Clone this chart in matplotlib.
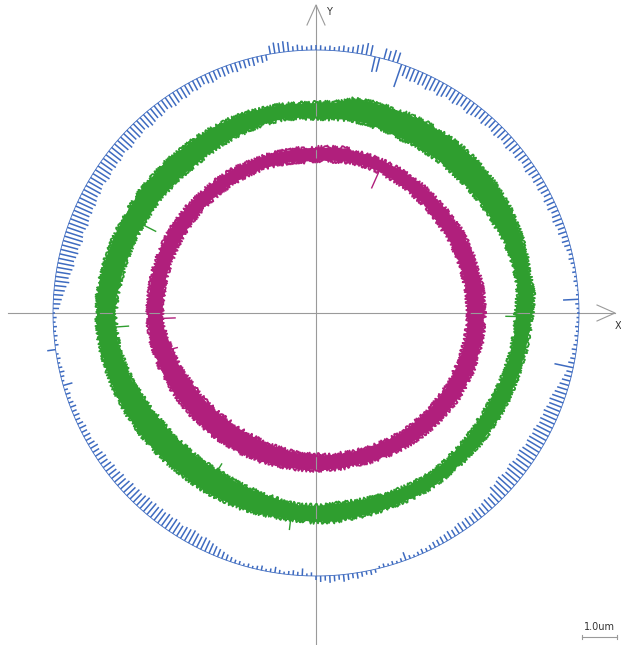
import numpy as np
import matplotlib.pyplot as plt
from matplotlib.collections import LineCollection

# blue deviation ticks, one per degree (positive = inward, negative = outward)
blue_ticks = [
    2, 2, 3, 13, 2, 1, 2, 3, 2, 3, 2, 3, 4, 3, 4, 5, 6, 5, 7, 6, 7, 8, 7, 6, 8, 7, 8, 6, 7, 8,
    7, 8, 7, 8, 9, 8, 7, 8, 9, 8, 9, 10, 9, 8, 9, 10, 9, 8, 9, 10, 8, 9, 10, 11, 10, 9, 10, 11, 10, 9,
    11, 12, 10, 11, 12, 10, 11, 10, 11, 10, 9, 20, -9, -10, -8, -9, 12, 13, -9, -10, -8, -7, -5, -4, -5, -4, -3, -4, -3, -4,
    -4, -4, -3, -4, -5, -4, -8, -9, -8, -9, -7, 5, 6, 5, 7, 6, 7, 6, 8, 7, 7, 8, 7, 8, 9, 8, 7, 8, 9, 8,
    9, 10, 9, 10, 11, 10, 9, 10, 11, 10, 11, 12, 11, 10, 11, 12, 11, 12, 13, 12, 11, 12, 13, 12, 13, 12, 13, 14, 13, 12,
    13, 14, 13, 14, 15, 14, 15, 14, 15, 16, 15, 14, 15, 16, 15, 14, 15, 14, 13, 14, 13, 12, 11, 12, 10, 9, 8, 7, 6, 5,
    2, 3, 2, 3, 2, 3, 2, 3, -7, 2, 3, 2, 3, 4, 3, 2, 8, 3, 4, 3, 4, 5, 4, 5, 4, 5, 6, 5, 6, 5,
    6, 7, 6, 7, 8, 7, 8, 9, 8, 9, 10, 9, 10, 11, 10, 11, 10, 11, 12, 11, 12, 11, 12, 11, 12, 11, 12, 11, 10, 11,
    11, 12, 11, 10, 11, 10, 9, 8, 7, 6, 5, 4, 3, 3, 2, 3, 2, 3, 4, 2, 3, 5, 3, 2, 3, 4, 3, 6, 2, 3,
    -3, -5, -4, -6, -5, -4, -6, -5, -4, -5, -4, -3, -4, -3, 2, 3, 2, 3, 2, 3, 7, 3, 2, 3, 4, 3, 4, 5, 5, 6,
    6, 7, 6, 7, 8, 7, 8, 7, 8, 9, 8, 9, 10, 9, 10, 14, 13, 14, 15, 14, 13, 14, 15, 14, 13, 14, 15, 14, 13, 14,
    14, 13, 14, 13, 12, 13, 12, 13, 12, 11, 12, 11, 10, 9, 8, 7, 6, 5, 16, 5, 4, 3, 4, 3, 2, 3, 2, 3, 2, 2,
]
blue_radius = 263

# profile bands, every 5 degrees starting at 0 (counter-clockwise from +X)
green_inner = [200, 203, 204, 203, 202, 200, 199, 198, 197, 196, 196, 195, 195, 194, 195, 196, 196, 195,
               195, 196, 197, 196, 195, 194, 193, 192, 191, 192, 192, 193, 194, 195, 196, 197, 198, 200,
               201, 201, 200, 198, 196, 193, 191, 189, 188, 187, 187, 186, 186, 187, 188, 189, 191, 193,
               193, 192, 192, 193, 194, 195, 196, 197, 197, 196, 196, 195, 195, 196, 197, 198, 199, 200]
green_outer = [216, 218, 217, 218, 219, 220, 221, 221, 221, 221, 221, 220, 220, 219, 218, 218, 217, 211,
               210, 210, 211, 211, 212, 212, 212, 212, 212, 213, 213, 214, 214, 215, 216, 217, 218, 219,
               219, 219, 218, 217, 216, 215, 214, 213, 212, 211, 210, 210, 210, 209, 209, 208, 208, 208,
               209, 209, 208, 208, 208, 208, 209, 209, 209, 209, 210, 210, 210, 211, 211, 212, 213, 214]
magenta_inner = [152, 152, 152, 152, 152, 152, 152, 152, 152, 153, 153, 154, 154, 155, 155, 155, 154, 153,
                 152, 152, 153, 153, 154, 154, 154, 154, 154, 154, 154, 154, 154, 154, 154, 154, 154, 154,
                 154, 153, 151, 149, 147, 145, 143, 142, 141, 140, 139, 139, 139, 139, 140, 140, 141, 142,
                 142, 143, 143, 144, 144, 145, 146, 147, 147, 148, 149, 149, 150, 150, 151, 151, 152, 152]
magenta_outer = [168, 168, 168, 167, 167, 167, 167, 166, 166, 166, 166, 166, 166, 166, 166, 166, 167, 166,
                 165, 165, 165, 165, 165, 165, 166, 166, 166, 166, 167, 167, 168, 168, 168, 168, 168, 168,
                 168, 168, 167, 166, 165, 164, 163, 162, 161, 160, 160, 159, 159, 158, 158, 157, 157, 157,
                 157, 157, 157, 157, 158, 159, 160, 161, 162, 163, 164, 165, 166, 166, 167, 167, 168, 168]

# single spikes: angle (deg), start radius, end radius
green_spikes = [(184, 203, 188), (153, 194, 180), (263, 208, 218), (359, 201, 190), (238, 188, 178)]
magenta_spikes = [(66, 155, 137), (182, 155, 141), (194, 152, 143)]

blue = "#3e6bc0"
green = "#2f9e2f"
magenta = "#b01f7c"
gray = "#9a9a9a"

fig = plt.figure(figsize=(6.21, 6.45), dpi=100)
ax = fig.add_axes([0, 0, 1, 1])
ax.set_xlim(-316, 305)
ax.set_ylim(-332, 313)
ax.axis("off")

# axes with open arrows
ax.plot([0, 0], [-332, 308], color=gray, lw=0.8)
ax.plot([-308, 299], [0, 0], color=gray, lw=0.8)
ax.plot([-9, 0, 9], [288, 308, 288], color=gray, lw=0.8)
ax.plot([281, 299, 281], [8, 0, -8], color=gray, lw=0.8)
ax.text(10, 301, "Y", fontsize=7, color="#333333", va="center", ha="left")
ax.text(305, -13, "X", fontsize=7, color="#333333", va="center", ha="right")

# blue base circle and ticks
th = np.deg2rad(np.arange(0, 361))
ax.plot(blue_radius * np.cos(th), blue_radius * np.sin(th), color=blue, lw=0.6)
ang = np.deg2rad(np.arange(len(blue_ticks)))
d = np.array(blue_ticks, dtype=float) * 1.2
segs = [[(blue_radius * np.cos(a), blue_radius * np.sin(a)),
         ((blue_radius - v) * np.cos(a), (blue_radius - v) * np.sin(a))] for a, v in zip(ang, d)]
ax.add_collection(LineCollection(segs, colors=blue, linewidths=1.1))


def band(inner, outer, color, spikes):
    t = np.deg2rad(np.arange(0, 365, 5))
    ri = np.append(inner, inner[0])
    ro = np.append(outer, outer[0])
    xs = np.concatenate([ro * np.cos(t), (ri * np.cos(t))[::-1]])
    ys = np.concatenate([ro * np.sin(t), (ri * np.sin(t))[::-1]])
    ax.fill(xs, ys, color=color, lw=0)
    # ragged profile edges
    for r in (ri, ro):
        ln, = ax.plot(r * np.cos(t), r * np.sin(t), color=color, lw=1.3)
        ln.set_sketch_params(scale=2.2, length=1.5, randomness=3)
    for a, r0, r1 in spikes:
        a = np.deg2rad(a)
        ax.plot([r0 * np.cos(a), r1 * np.cos(a)], [r0 * np.sin(a), r1 * np.sin(a)], color=color, lw=1.0)


band(green_inner, green_outer, green, green_spikes)
band(magenta_inner, magenta_outer, magenta, magenta_spikes)

# scale bar
ax.plot([266, 301], [-324, -324], color=gray, lw=0.8)
ax.plot([266, 266], [-322, -326], color=gray, lw=0.8)
ax.plot([301, 301], [-322, -326], color=gray, lw=0.8)
ax.text(283, -314, "1.0um", fontsize=7, color="#333333", ha="center", va="center")

fig.savefig("out.png", dpi=100)
